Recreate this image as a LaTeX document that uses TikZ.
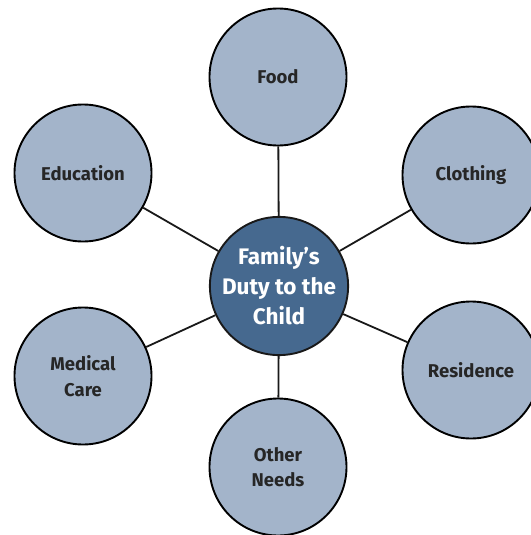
\documentclass[tikz,border=0pt]{standalone}
\usepackage{fontspec}
\setmainfont{Fira Sans}
\definecolor{lightfill}{HTML}{A3B4CA}
\definecolor{darkfill}{HTML}{46698F}
\begin{document}
\begin{tikzpicture}[x=1pt,y=-1pt,
  outer/.style={circle,draw=black,line width=1.9pt,fill=lightfill,minimum size=137pt,inner sep=0pt,align=center,font=\fontsize{18.5}{25.5}\selectfont\bfseries,text=black!85},
  hub/.style={circle,draw=black!90,line width=1.9pt,fill=darkfill,minimum size=129pt,inner sep=0pt,align=center,font=\fontsize{22.5}{30}\selectfont\bfseries,text=white},
  link/.style={draw=black!90,line width=1.8pt}]
\useasboundingbox (0,0) rectangle (530,535);
\node[hub] (c) at (279,286) {Family’s\\Duty to the\\Child};
\node[outer] (food) at (278,77) {Food};
\node[outer] (cloth) at (471,175) {Clothing};
\node[outer] (edu) at (83,173) {Education};
\node[outer] (med) at (83,376) {Medical\\Care};
\node[outer] (res) at (471,370) {Residence};
\node[outer] (other) at (278,467) {Other\\Needs};
\foreach \n in {food,cloth,edu,med,res,other}
  \draw[link] (c) -- (\n);
\end{tikzpicture}
\end{document}
